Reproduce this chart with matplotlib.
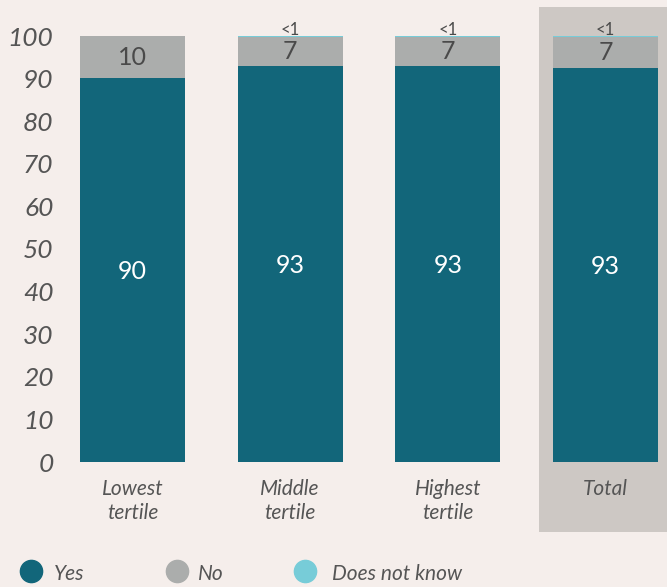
import matplotlib
matplotlib.use("Agg")
import matplotlib.pyplot as plt
from matplotlib.patches import Rectangle
from matplotlib.lines import Line2D
import numpy as np

categories = ["Lowest\ntertile", "Middle\ntertile", "Highest\ntertile", "Total"]
yes_vals = [90.1, 93.0, 93.0, 92.6]
no_vals = [9.9, 6.7, 6.7, 7.1]
dnk_vals = [0.0, 0.3, 0.3, 0.3]
yes_labels = ["90", "93", "93", "93"]
no_labels = ["10", "7", "7", "7"]
dnk_labels = ["", "<1", "<1", "<1"]
series_names = ["Yes", "No", "Does not know"]
yticks = [0, 10, 20, 30, 40, 50, 60, 70, 80, 90, 100]

BG = "#f5eeeb"
C_YES = "#12667a"
C_NO = "#abadac"
C_DNK = "#77ccd8"
PANEL = "#cdc8c4"
TXT = "#555555"
FONT = ["Lato", "DejaVu Sans"]

W, H = 667, 587
fig = plt.figure(figsize=(W / 100, H / 100), dpi=100, facecolor=BG)
ax_left, ax_right = 66, 667
ax_top, ax_bottom = 36, 462
ax = fig.add_axes([ax_left / W, (H - ax_bottom) / H, (ax_right - ax_left) / W, (ax_bottom - ax_top) / H])
ax.set_facecolor("none")

x = np.arange(len(categories))
px_per_unit = 157.7
xmin = -(132.5 - ax_left) / px_per_unit
xmax = (ax_right - 132.5) / px_per_unit
ax.set_xlim(xmin, xmax)
ax.set_ylim(0, 100)

# highlight panel behind Total
ypu = (ax_bottom - ax_top) / 100.0
panel_x0 = (539 - 132.5) / px_per_unit
panel_y0 = -(532 - ax_bottom) / ypu
panel_y1 = (ax_bottom - 7) / ypu
ax.add_patch(Rectangle((panel_x0, panel_y0), xmax - panel_x0 + 0.5, panel_y1 - panel_y0,
                       facecolor=PANEL, edgecolor="none", clip_on=False, zorder=0))

width = 0.667
yes = np.array(yes_vals)
no = np.array(no_vals)
dnk = np.array(dnk_vals)
ax.bar(x, yes, width, color=C_YES, zorder=2)
ax.bar(x, no, width, bottom=yes, color=C_NO, zorder=2)
ax.bar(x, dnk, width, bottom=yes + no, color=C_DNK, zorder=2)

for i in range(len(x)):
    ax.text(x[i], yes[i] / 2 - 0.4, yes_labels[i], ha="center", va="center", color="white",
            fontsize=18, family=FONT, zorder=3)
    ax.text(x[i], yes[i] + no[i] / 2, no_labels[i], ha="center", va="center", color="#4a4a4a",
            fontsize=18, family=FONT, zorder=3)
    if dnk_labels[i]:
        ax.text(x[i], 99.6, dnk_labels[i], ha="center", va="bottom", color="#4a4a4a",
                fontsize=12, family=FONT, zorder=3)

ax.set_yticks(yticks)
ax.set_yticklabels([str(v) for v in yticks], fontsize=19, style="italic", color=TXT, family=FONT)
ax.set_xticks(x)
ax.set_xticklabels(categories, fontsize=15, style="italic", color=TXT, family=FONT, linespacing=1.25)
ax.tick_params(axis="y", length=0, pad=9)
ax.tick_params(axis="x", length=0, pad=12)
for s in ax.spines.values():
    s.set_visible(False)

# legend
leg_colors = [C_YES, C_NO, C_DNK]
leg_marker_x = [31, 177, 305]
leg_text_x = [54, 198, 332]
leg_y = 571
for name, col, mx, tx in zip(series_names, leg_colors, leg_marker_x, leg_text_x):
    fig.add_artist(Line2D([mx / W], [(H - leg_y) / H], marker="o", markersize=16,
                          color=col, linestyle="none", transform=fig.transFigure))
    fig.text(tx / W, (H - leg_y - 3) / H, name, fontsize=15, style="italic", color=TXT,
             family=FONT, va="center", ha="left")

fig.savefig("out.png", dpi=100, facecolor=BG)
